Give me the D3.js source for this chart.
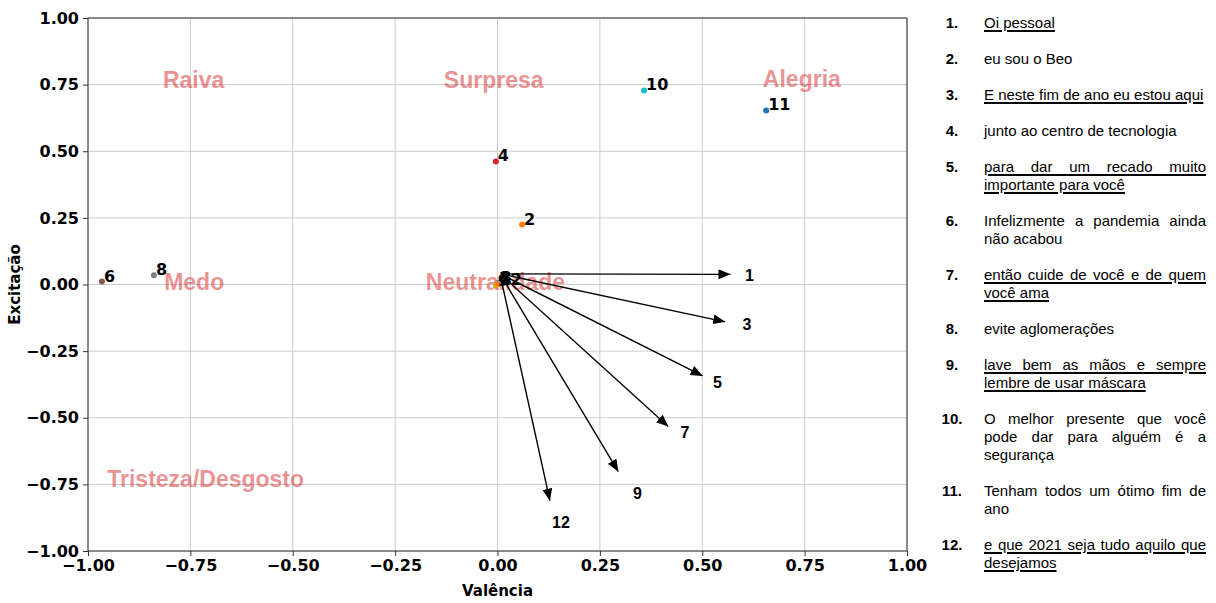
<!DOCTYPE html>
<html>
<head>
<meta charset="utf-8">
<script src="https://cdn.jsdelivr.net/npm/d3@7"></script>
<style>
  body { margin: 0; background: #fff; width: 1216px; height: 603px; overflow: hidden; position: relative; }
  #chart { position: absolute; left: 0; top: 0; }
  #legend { position: absolute; left: 940px; top: 14px; width: 266px;
    font-family: "Liberation Sans", Arial, sans-serif; font-size: 15px; line-height: 18px; color: #000; }
  .item { position: relative; margin-bottom: 18px; }
  .num { position: absolute; left: 0; width: 24px; text-align: center; font-weight: bold; }
  .txt { margin-left: 44px; width: 222px; text-align: justify; }
  .txt.u { text-decoration: underline; text-decoration-thickness: 1.5px; text-underline-offset: 2px; }
</style>
</head>
<body>
<div id="chart"></div>
<div id="legend"></div>
<script>
// data
const pointIds = [1, 2, 3, 4, 5, 6, 7, 8, 9, 10, 11, 12];
const valence = [0.003, 0.060, 0.002, -0.004, 0.001, -0.966, 0.000, -0.839, -0.004, 0.358, 0.656, 0.000];
const arousal = [0.006, 0.225, 0.004, 0.462, 0.003, 0.011, 0.002, 0.035, -0.004, 0.728, 0.653, 0.000];

// annotated arrows for the points crowded at the origin
const arrowIds = [1, 3, 5, 7, 9, 12];
const arrowStart = [0.006, 0.040];
const arrowTipX = [0.569, 0.556, 0.501, 0.417, 0.295, 0.128];
const arrowTipY = [0.038, -0.140, -0.343, -0.533, -0.702, -0.811];
const arrowLabelX = [0.615, 0.609, 0.537, 0.458, 0.342, 0.155];
const arrowLabelY = [0.035, -0.150, -0.365, -0.553, -0.782, -0.893];

const regionNames = ["Raiva", "Surpresa", "Alegria", "Medo", "Neutralidade", "Tristeza/Desgosto"];
const regionX = [-0.817, -0.131, 0.648, -0.814, -0.175, -0.953];
const regionY = [0.738, 0.738, 0.740, -0.021, -0.021, -0.760];

const ticks = [-1, -0.75, -0.5, -0.25, 0, 0.25, 0.5, 0.75, 1];

const phrases = [
  "Oi pessoal",
  "eu sou o Beo",
  "E neste fim de ano eu estou aqui",
  "junto ao centro de tecnologia",
  "para dar um recado muito importante para você",
  "Infelizmente a pandemia ainda não acabou",
  "então cuide de você e de quem você ama",
  "evite aglomerações",
  "lave bem as mãos e sempre lembre de usar máscara",
  "O melhor presente que você pode dar para alguém é a segurança",
  "Tenham todos um ótimo fim de ano",
  "e que 2021 seja tudo aquilo que desejamos"
];

const W = 930, H = 603;
const margin = {left: 88, top: 18, right: 23, bottom: 52};
const x = d3.scaleLinear().domain([-1, 1]).range([margin.left, W - margin.right]);
const y = d3.scaleLinear().domain([-1, 1]).range([H - margin.bottom, margin.top]);
const color = (id) => d3.schemeCategory10[(id - 1) % 10];
const fmt = (v) => d3.format(".2f")(v).replace("-", "\u2212");

const svg = d3.select("#chart").append("svg").attr("width", W).attr("height", H);

// grid
svg.append("g").selectAll("line").data(ticks).enter().append("line")
  .attr("x1", d => x(d)).attr("x2", d => x(d))
  .attr("y1", y(-1)).attr("y2", y(1))
  .attr("stroke", "#cccccc").attr("stroke-width", 1);
svg.append("g").selectAll("line").data(ticks).enter().append("line")
  .attr("y1", d => y(d)).attr("y2", d => y(d))
  .attr("x1", x(-1)).attr("x2", x(1))
  .attr("stroke", "#cccccc").attr("stroke-width", 1);

// axes
const xAxis = svg.append("g").attr("transform", `translate(0,${y(-1)})`)
  .call(d3.axisBottom(x).tickValues(ticks).tickFormat(fmt).tickSize(5).tickPadding(4));
const yAxis = svg.append("g").attr("transform", `translate(${x(-1)},0)`)
  .call(d3.axisLeft(y).tickValues(ticks).tickFormat(fmt).tickSize(5).tickPadding(4));
[xAxis, yAxis].forEach(g => {
  g.select(".domain").remove();
  g.selectAll("line").attr("stroke", "#333");
  g.selectAll("text").attr("font-family", "DejaVu Sans").attr("font-weight", "bold")
    .attr("font-size", 16).attr("fill", "#000");
});

// frame
svg.append("rect").attr("x", x(-1)).attr("y", y(1))
  .attr("width", x(1) - x(-1)).attr("height", y(-1) - y(1))
  .attr("fill", "none").attr("stroke", "#333").attr("stroke-width", 1);

// axis titles
svg.append("text").attr("x", x(0)).attr("y", 596).attr("text-anchor", "middle")
  .attr("font-family", "DejaVu Sans").attr("font-weight", "bold").attr("font-size", 15)
  .text("Valência");
svg.append("text").attr("transform", `translate(20,${y(0)}) rotate(-90)`).attr("text-anchor", "middle")
  .attr("font-family", "DejaVu Sans").attr("font-weight", "bold").attr("font-size", 15)
  .text("Excitação");

// emotion regions
svg.append("g").selectAll("text").data(regionNames).enter().append("text")
  .attr("x", (d, i) => x(regionX[i])).attr("y", (d, i) => y(regionY[i]))
  .attr("font-family", "Liberation Sans, Arial, sans-serif").attr("font-weight", "bold")
  .attr("font-size", 23).attr("fill", "#d62728").attr("fill-opacity", 0.5)
  .text(d => d);

// points
svg.append("g").selectAll("circle").data(pointIds).enter().append("circle")
  .attr("cx", (d, i) => x(valence[i])).attr("cy", (d, i) => y(arousal[i]))
  .attr("r", 3).attr("fill", d => color(d));

// arrows (start shrunk a few pixels away from the crowded labels)
svg.append("defs").append("marker").attr("id", "head")
  .attr("viewBox", "0 0 12 10").attr("refX", 12).attr("refY", 5)
  .attr("markerWidth", 12).attr("markerHeight", 10).attr("markerUnits", "userSpaceOnUse")
  .attr("orient", "auto")
  .append("path").attr("d", "M0,0L12,5L0,10Z").attr("fill", "#000");
const sx = x(arrowStart[0]), sy = y(arrowStart[1]);
svg.append("g").selectAll("line").data(arrowIds).enter().append("line")
  .each(function(d, i) {
    const tx = x(arrowTipX[i]), ty = y(arrowTipY[i]);
    const len = Math.hypot(tx - sx, ty - sy), k = 4 / len;
    d3.select(this)
      .attr("x1", sx + (tx - sx) * k).attr("y1", sy + (ty - sy) * k)
      .attr("x2", tx).attr("y2", ty);
  })
  .attr("stroke", "#000").attr("stroke-width", 1.4).attr("marker-end", "url(#head)");

// point labels
svg.append("g").selectAll("text").data(pointIds).enter().append("text")
  .attr("x", (d, i) => x(valence[i]) + 2).attr("y", (d, i) => y(arousal[i]))
  .attr("font-family", "DejaVu Sans").attr("font-weight", "bold").attr("font-size", 16)
  .text(d => d);

svg.append("g").selectAll("text").data(arrowIds).enter().append("text")
  .attr("x", (d, i) => x(arrowLabelX[i])).attr("y", (d, i) => y(arrowLabelY[i]))
  .attr("text-anchor", "middle").attr("dy", "0.36em")
  .attr("font-family", "Liberation Sans, Arial, sans-serif").attr("font-weight", "bold")
  .attr("font-size", 16)
  .text(d => d);

// phrase list
const items = d3.select("#legend").selectAll("div.item").data(pointIds).enter()
  .append("div").attr("class", "item");
items.append("div").attr("class", "num").text(d => d + ".");
items.append("div").attr("class", d => arrowIds.includes(d) ? "txt u" : "txt")
  .text((d, i) => phrases[i]);
</script>
</body>
</html>
